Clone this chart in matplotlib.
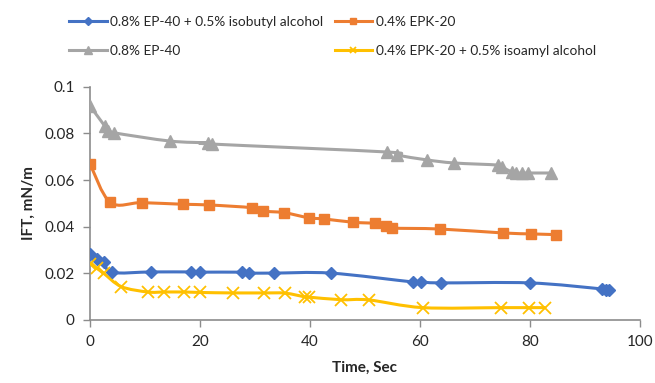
import matplotlib
matplotlib.use("Agg")
import matplotlib.pyplot as plt
from matplotlib.path import Path
from matplotlib.patches import PathPatch
from matplotlib.lines import Line2D
import numpy as np

plt.rcParams['font.family'] = ['Lato', 'DejaVu Sans']

# Series: time (s) and IFT (mN/m)
ep40_iso_t = [0, 1.3, 2.5, 4.0, 11.1, 18.4, 20.0, 27.6, 28.9, 33.5, 43.8,
              58.7, 60.2, 63.8, 80.0, 93.1, 93.8, 94.4]
ep40_iso_y = [0.0283, 0.0261, 0.0250, 0.0204, 0.0206, 0.0206, 0.0205, 0.0205,
              0.0201, 0.0201, 0.0201, 0.0163, 0.0163, 0.0159, 0.0159, 0.0133,
              0.0129, 0.0129]

epk20_t = [0, 3.7, 9.4, 16.9, 21.7, 29.5, 31.4, 35.3, 39.8, 42.6, 47.8, 51.8,
           53.8, 54.9, 63.6, 75.1, 80.2, 84.7]
epk20_y = [0.0669, 0.0504, 0.0503, 0.0496, 0.0493, 0.0481, 0.0467, 0.0460,
           0.0438, 0.0433, 0.0419, 0.0414, 0.0403, 0.0394, 0.0390, 0.0373,
           0.0369, 0.0366]

ep40_t = [0, 2.7, 3.3, 4.4, 14.5, 21.5, 22.2, 54.0, 55.8, 61.3, 66.2, 74.2,
          74.9, 76.7, 77.5, 78.5, 79.6, 83.8]
ep40_y = [0.0917, 0.0831, 0.0810, 0.0802, 0.0767, 0.0759, 0.0754, 0.0720,
          0.0707, 0.0686, 0.0673, 0.0664, 0.0656, 0.0634, 0.0630, 0.0630,
          0.0630, 0.0630]

epk20_amyl_t = [0, 1.2, 2.5, 5.7, 10.5, 13.5, 17.1, 20.0, 26.0, 31.6, 35.5,
                39.1, 39.8, 45.6, 50.7, 60.5, 74.7, 79.8, 82.7]
epk20_amyl_y = [0.0242, 0.0222, 0.0200, 0.0143, 0.0120, 0.0120, 0.0120,
                0.0118, 0.0116, 0.0116, 0.0115, 0.0099, 0.0098, 0.0087,
                0.0086, 0.0053, 0.0053, 0.0053, 0.0053]

labels = ["0.8% EP-40 + 0.5% isobutyl alcohol", "0.4% EPK-20",
          "0.8% EP-40", "0.4% EPK-20 + 0.5% isoamyl alcohol"]

x_ticks = [0, 20, 40, 60, 80, 100]
y_ticks = [0, 0.02, 0.04, 0.06, 0.08, 0.1]
y_tick_labels = ["0", "0.02", "0.04", "0.06", "0.08", "0.1"]


def smooth_path(xs, ys, k=1 / 6):
    """Cubic Bezier path through the points (Catmull-Rom style smoothing)."""
    p = np.column_stack([xs, ys]).astype(float)
    n = len(p)
    verts = [p[0]]
    codes = [Path.MOVETO]
    for i in range(n - 1):
        p0 = p[i - 1] if i > 0 else p[i]
        p1 = p[i]
        p2 = p[i + 1]
        p3 = p[i + 2] if i + 2 < n else p[i + 1]
        c1 = p1 + (p2 - p0) * k
        c2 = p2 - (p3 - p1) * k
        verts += [c1, c2, p2]
        codes += [Path.CURVE4] * 3
    return Path(verts, codes)


fig = plt.figure(figsize=(6.55, 3.83), dpi=100)
ax = fig.add_axes([0.1374, 0.1645, 0.977 - 0.1374, 0.7737 - 0.1645])

series = [
    (ep40_iso_t, ep40_iso_y, "#4472C4", "D", 6.5, None),
    (epk20_t, epk20_y, "#ED7D31", "s", 7.5, None),
    (ep40_t, ep40_y, "#A5A5A5", "^", 8.5, None),
    (epk20_amyl_t, epk20_amyl_y, "#FFC000", "x", 8, 1.3),
]

handles = []
for (t, y, c, m, ms, mew), lab in zip(series, labels):
    patch = PathPatch(smooth_path(t, y), facecolor="none", edgecolor=c,
                      lw=2.2, capstyle="round", joinstyle="round", zorder=2)
    ax.add_patch(patch)
    ax.plot(t, y, ls="none", marker=m, ms=ms, color=c,
            mew=mew if mew else 1.0, zorder=3)
    handles.append(Line2D([], [], color=c, lw=2.2, marker=m,
                          ms=ms * 0.6, mew=mew if mew else 1.0))

ax.set_xlim(0, 100)
ax.set_ylim(0, 0.1)
ax.set_xticks(x_ticks)
ax.set_yticks(y_ticks)
ax.set_yticklabels(y_tick_labels)

for side in ("top", "right"):
    ax.spines[side].set_visible(False)
for side in ("left", "bottom"):
    ax.spines[side].set_color("#8C8C8C")
    ax.spines[side].set_linewidth(1.2)
    ax.spines[side].set_clip_on(False)
ax.tick_params(axis="both", direction="out", length=5, width=1.0,
               color="#8C8C8C", labelsize=11, labelcolor="#262626", pad=6)

ax.set_xlabel("Time, Sec", fontsize=11, fontweight="bold", color="#262626",
              labelpad=8)
ax.set_ylabel("IFT, mN/m", fontsize=11, fontweight="bold", color="#262626",
              labelpad=6)

# column-wise fill: blue/grey in the first column, orange/yellow in the second
order = [0, 2, 1, 3]
fig.legend(handles=[handles[i] for i in order],
           labels=[labels[i] for i in order], loc="upper left",
           bbox_to_anchor=(0.087, 0.99), ncol=2, frameon=False, fontsize=9.8,
           handlelength=2.75, handletextpad=0.25, columnspacing=0.85,
           labelspacing=1.25, labelcolor="#262626")

fig.savefig("out.png", dpi=100)
